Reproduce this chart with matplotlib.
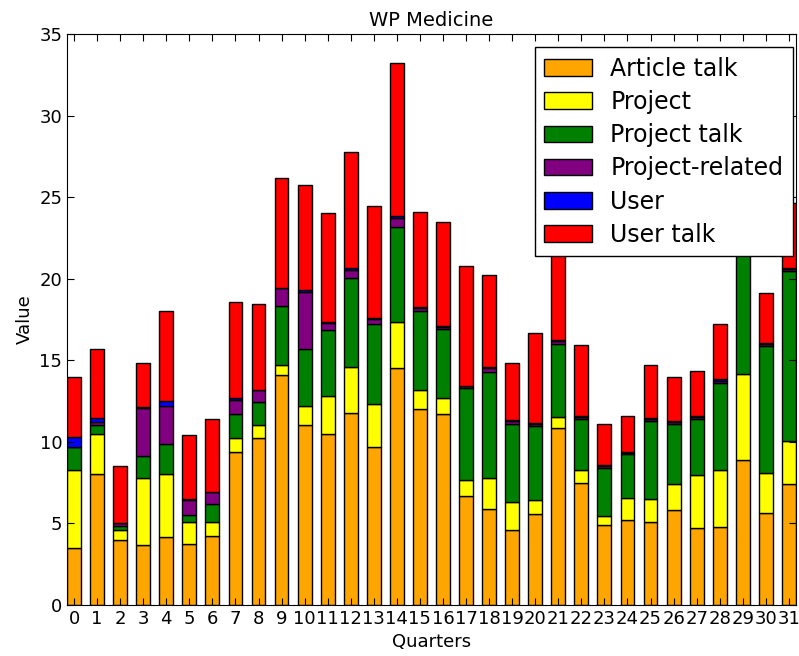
import matplotlib
matplotlib.use("Agg")
import matplotlib.pyplot as plt
import numpy as np

quarters = list(range(32))

article_talk = [3.5, 8.05, 4.0, 3.65, 4.15, 3.7, 4.25, 9.37, 10.25, 14.1, 11.0, 10.5, 11.75, 9.65, 14.5, 12.0,
                11.7, 6.7, 5.85, 4.6, 5.6, 10.85, 7.5, 4.9, 5.2, 5.05, 5.8, 4.7, 4.75, 8.9, 5.65, 7.4]
project = [4.75, 2.45, 0.6, 4.15, 3.9, 1.35, 0.85, 0.85, 0.8, 0.6, 1.2, 2.3, 2.85, 2.65, 2.85, 1.15,
           1.0, 0.95, 1.9, 1.7, 0.8, 0.65, 0.75, 0.55, 1.35, 1.45, 1.6, 3.25, 3.5, 5.25, 2.45, 2.65]
project_talk = [1.4, 0.55, 0.25, 1.35, 1.8, 0.45, 1.1, 1.5, 1.4, 3.6, 3.5, 4.05, 5.45, 4.9, 5.85, 4.9,
                4.2, 5.65, 6.55, 4.8, 4.55, 4.5, 3.15, 2.95, 2.7, 4.75, 3.7, 3.45, 5.35, 8.5, 7.8, 10.45]
project_related = [0.05, 0.15, 0.15, 2.95, 2.35, 0.95, 0.7, 0.85, 0.75, 1.1, 3.5, 0.45, 0.5, 0.35, 0.55, 0.15,
                   0.15, 0.1, 0.25, 0.15, 0.15, 0.15, 0.1, 0.1, 0.05, 0.15, 0.1, 0.1, 0.15, 0.15, 0.1, 0.1]
user = [0.6, 0.25, 0.0, 0.05, 0.3, 0.05, 0.05, 0.1, 0.0, 0.05, 0.1, 0.05, 0.1, 0.05, 0.1, 0.05,
        0.05, 0.05, 0.05, 0.1, 0.05, 0.1, 0.05, 0.1, 0.05, 0.05, 0.1, 0.05, 0.1, 0.1, 0.05, 0.05]
user_talk = [3.65, 4.25, 3.5, 2.7, 5.5, 3.9, 4.45, 5.9, 5.25, 6.75, 6.45, 6.65, 7.1, 6.85, 9.35, 5.85,
             6.4, 7.3, 5.6, 3.45, 5.5, 6.25, 4.4, 2.5, 2.2, 3.25, 2.7, 2.8, 3.4, 4.5, 3.1, 4.0]

series = [
    ("Article talk", article_talk, "orange"),
    ("Project", project, "yellow"),
    ("Project talk", project_talk, "green"),
    ("Project-related", project_related, "purple"),
    ("User", user, "blue"),
    ("User talk", user_talk, "red"),
]

plt.rcParams["font.family"] = "DejaVu Sans"
fig = plt.figure(figsize=(7.99, 6.56), dpi=100)
ax = fig.add_axes([0.084, 0.078, 0.912, 0.870])

x = np.arange(len(quarters))
bottom = np.zeros(len(quarters))
for name, vals, col in series:
    v = np.array(vals, float)
    ax.bar(x, v, 0.6, bottom=bottom, color=col, edgecolor="black", linewidth=1.0, label=name)
    bottom += v

ax.set_xlim(-0.3, 31.3)
ax.set_ylim(0, 35)
ax.set_xticks(x)
ax.set_xticklabels([str(q) for q in quarters], fontsize=13)
ax.set_yticks(np.arange(0, 36, 5))
ax.tick_params(axis="y", labelsize=13)
ax.tick_params(direction="in", top=True, right=True, length=5, width=0.8)
ax.set_xlabel("Quarters", fontsize=13)
ax.set_ylabel("Value", fontsize=13)
ax.set_title("WP Medicine", fontsize=14)

ax.legend(loc="upper right", bbox_to_anchor=(0.996, 0.977), borderaxespad=0, fontsize=17,
          fancybox=False, framealpha=1, edgecolor="black", handlelength=2.0,
          handletextpad=0.8, borderpad=0.4, labelspacing=0.39)

fig.savefig("out.png", dpi=100)
